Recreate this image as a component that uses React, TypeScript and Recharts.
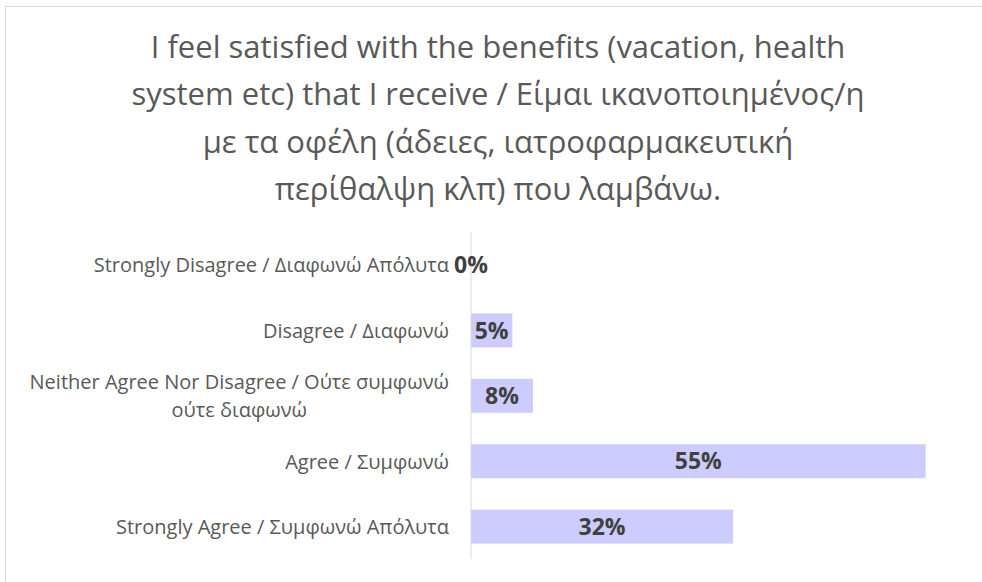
import React, { useLayoutEffect, useRef, useState } from "react";
import { BarChart, Bar, XAxis, YAxis, LabelList } from "recharts";

const titleLines = [
  "I feel satisfied with the benefits (vacation, health",
  "system etc) that I receive / Είμαι ικανοποιημένος/η",
  "με τα οφέλη (άδειες, ιατροφαρμακευτική",
  "περίθαλψη κλπ) που λαμβάνω.",
];

const categories = [
  "Strongly Disagree / Διαφωνώ Απόλυτα",
  "Disagree / Διαφωνώ",
  "Neither Agree Nor Disagree / Ούτε συμφωνώ ούτε διαφωνώ",
  "Agree / Συμφωνώ",
  "Strongly Agree / Συμφωνώ Απόλυτα",
];

const shares = [0, 0.05, 0.075, 0.55, 0.317];

const data = categories.map((label, i) => ({ label, value: shares[i] }));

const FONT = "'Open Sans', 'Noto Sans', sans-serif";
const TEXT = "#595959";
const LABEL_SIZE = 20;

function wrap(text: string, maxChars: number): string[] {
  const words = text.split(" ");
  const lines: string[] = [];
  let cur = "";
  for (const w of words) {
    const next = cur ? cur + " " + w : w;
    if (next.length > maxChars && cur) {
      lines.push(cur);
      cur = w;
    } else {
      cur = next;
    }
  }
  if (cur) lines.push(cur);
  return lines;
}

const CategoryTick = (props: any) => {
  const { y, payload } = props;
  const lines = wrap(String(payload?.value ?? ""), 42);
  const ref = useRef<SVGTextElement | null>(null);
  const [w, setW] = useState(0);
  useLayoutEffect(() => {
    if (ref.current) setW(ref.current.getComputedTextLength());
  }, [payload?.value]);
  const xr = 449;
  const gap = 14;
  const common = {
    fill: TEXT,
    fontSize: LABEL_SIZE,
    fontFamily: FONT,
    dy: "0.38em",
  };
  if (lines.length === 1) {
    return (
      <text x={xr} y={y} textAnchor="end" {...common}>
        {lines[0]}
      </text>
    );
  }
  const cx = xr - w / 2;
  return (
    <g>
      <text ref={ref} x={xr} y={y - gap} textAnchor="end" {...common}>
        {lines[0]}
      </text>
      {lines.slice(1).map((ln, i) => (
        <text key={i} x={cx} y={y + gap + i * 2 * gap} textAnchor="middle" {...common}>
          {ln}
        </text>
      ))}
    </g>
  );
};

const ValueLabel = (props: any) => {
  const { x, y, width, height, value } = props;
  const v = Number(value);
  const w = v === 0 ? 0 : Number(width);
  const cx = Number(x) + w / 2;
  const cy = Number(y) + Number(height) / 2;
  return (
    <text
      x={cx}
      y={cy}
      dy="0.36em"
      textAnchor="middle"
      fill="#404040"
      fontSize={23}
      fontWeight="bold"
      fontFamily={FONT}
    >
      {`${Math.round(v * 100)}%`}
    </text>
  );
};

const BarShape = (props: any) => {
  const { x, y, width, height, payload, fill } = props;
  if (!payload || Number(payload.value) === 0) return <g />;
  return <rect x={x} y={y} width={width} height={height} fill={fill} />;
};

export default function App() {
  return (
    <div style={{ position: "absolute", left: 0, top: 0, width: 982, height: 582, overflow: "hidden", background: "#fff" }}>
      <div
        style={{
          position: "absolute",
          left: 5,
          top: 6,
          width: 1000,
          height: 600,
          border: "1px solid #D9D9D9",
          boxSizing: "border-box",
        }}
      />
      <div
        style={{
          position: "absolute",
          left: 0,
          top: 23,
          width: 996,
          textAlign: "center",
          fontFamily: FONT,
          fontSize: 31,
          lineHeight: "47.3px",
          color: TEXT,
        }}
      >
        {titleLines.map((t, i) => (
          <div key={i}>{t}</div>
        ))}
      </div>
      <div style={{ position: "absolute", left: 0, top: 0 }}>
        <BarChart
          width={982}
          height={582}
          data={data}
          layout="vertical"
          margin={{ top: 232, right: 15, bottom: 23, left: 0 }}
        >
          <XAxis type="number" domain={[0, 0.6]} hide />
          <YAxis
            type="category"
            dataKey="label"
            width={471}
            axisLine={{ stroke: "#D9D9D9" }}
            tickLine={false}
            tick={<CategoryTick />}
            interval={0}
          />
          <Bar
            dataKey="value"
            fill="#CCCCFF"
            barSize={34}
            minPointSize={1}
            shape={<BarShape />}
            isAnimationActive={false}
          >
            <LabelList dataKey="value" content={<ValueLabel />} />
          </Bar>
        </BarChart>
      </div>
    </div>
  );
}
